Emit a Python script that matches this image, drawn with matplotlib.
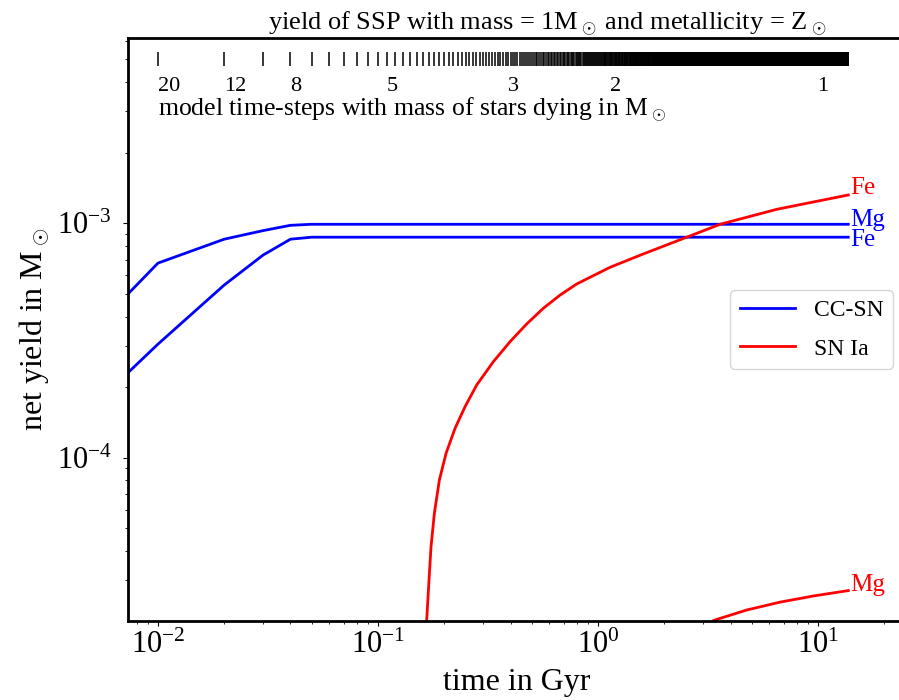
import numpy as np
import matplotlib
matplotlib.use("Agg")
import matplotlib.pyplot as plt

plt.rcParams['font.family'] = 'serif'
plt.rcParams['font.serif'] = ['Liberation Serif', 'DejaVu Serif']
plt.rcParams['mathtext.fontset'] = 'cm'

# CC-SN yields (time in Gyr, net yield in Msun)
cc_time = [0.005, 0.01, 0.02, 0.03, 0.04, 0.05, 13.7]
cc_mg = [3.46e-4, 6.76e-4, 8.55e-4, 9.3e-4, 9.8e-4, 9.9e-4, 9.9e-4]
cc_fe = [1.64e-4, 3.05e-4, 5.45e-4, 7.31e-4, 8.55e-4, 8.72e-4, 8.72e-4]

# SN Ia yields
ia_fe_time = [0.159, 0.1664, 0.1705, 0.1741, 0.1803, 0.190, 0.2038, 0.2239, 0.2486,
              0.2809, 0.3343, 0.398, 0.4739, 0.564, 0.672, 0.80, 1.134, 1.607,
              2.279, 3.585, 6.49, 13.7]
ia_fe = [1.0e-5, 2.03e-5, 3.01e-5, 4.17e-5, 5.79e-5, 8.03e-5, 1.044e-4, 1.335e-4,
         1.651e-4, 2.043e-4, 2.568e-4, 3.125e-4, 3.72e-4, 4.34e-4, 4.94e-4, 5.51e-4,
         6.49e-4, 7.40e-4, 8.40e-4, 9.9e-4, 1.147e-3, 1.32e-3]
ia_mg_time = [3.0, 3.34, 4.74, 6.72, 9.52, 13.7]
ia_mg = [1.75e-5, 2.02e-5, 2.24e-5, 2.42e-5, 2.57e-5, 2.71e-5]

# model time grid and mass of stars dying
time_step = 0.01
t_end = 13.7
mass_labels = ['20', '12', '8', '5', '3', '2', '1']
mass_label_times = [0.01, 0.02, 0.04, 0.11, 0.39, 1.13, 9.9]

steps = np.arange(time_step, t_end + time_step / 2, time_step)

fig = plt.figure(figsize=(8.99, 7.0), dpi=100)
ax = fig.add_axes([128 / 899, 1 - 621 / 700, (905 - 128) / 899, (621 - 38) / 700])

ax.plot(cc_time, cc_mg, color='blue', lw=2, label='CC-SN')
ax.plot(cc_time, cc_fe, color='blue', lw=2)
ax.plot(ia_fe_time, ia_fe, color='red', lw=2, label='SN Ia')
ax.plot(ia_mg_time, ia_mg, color='red', lw=2)

ax.vlines(steps, 4.69e-3, 5.4e-3, color='black', lw=1.1)
for lab, t in zip(mass_labels, mass_label_times):
    ax.text(t, 3.85e-3, lab, ha='left', va='center', fontsize=16)
ax.text(0.01, 3.04e-3, r'model time-steps with mass of stars dying in M$_\odot$',
        ha='left', va='center', fontsize=18.5)

ax.text(14.0, 1.415e-3, 'Fe', color='red', ha='left', va='center', fontsize=18)
ax.text(14.0, 1.033e-3, 'Mg', color='blue', ha='left', va='center', fontsize=18)
ax.text(14.0, 8.49e-4, 'Fe', color='blue', ha='left', va='center', fontsize=18)
ax.text(14.0, 2.86e-5, 'Mg', color='red', ha='left', va='center', fontsize=18)

ax.set_xscale('log')
ax.set_yscale('log')
ax.set_xlim(0.00731, 24.8)
ax.set_ylim(2.01e-5, 6.17e-3)
ax.tick_params(labelsize=22)
ax.tick_params(axis='y', which='major', pad=8)
for s in ax.spines.values():
    s.set_linewidth(2)

ax.set_xlabel('time in Gyr', fontsize=23, labelpad=6)
ax.set_ylabel(r'net yield in M$_\odot$', fontsize=23)
ax.set_title(r'yield of SSP with mass = 1M$_\odot\,$and metallicity = Z$_\odot$',
             fontsize=19, x=0.54)
ax.legend(loc='center right', fontsize=17, handlelength=2.35, labelspacing=0.72)

fig.savefig('out.png', dpi=100)
